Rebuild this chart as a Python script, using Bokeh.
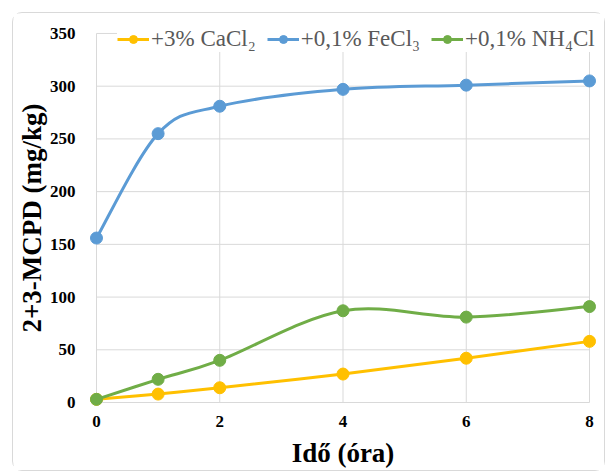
import numpy as np
from bokeh.plotting import figure
from bokeh.layouts import column
from bokeh.models import (Range1d, FixedTicker, Legend, LegendItem, ColumnDataSource)
from bokeh.embed import file_html
from bokeh.resources import INLINE

# ---- data ----
hours = [0, 1, 2, 4, 6, 8]
cacl2 = [3, 8, 14, 27, 42, 58]
fecl3 = [156, 255, 281, 297, 301, 305]
nh4cl = [3, 22, 40, 87, 81, 91]
series_labels = ["+3% CaCl\u2082", "+0,1% FeCl\u2083", "+0,1% NH\u2084Cl"]
series_colors = ["#FFC000", "#5B9BD5", "#70AD47"]
x_ticks = [0, 2, 4, 6, 8]
y_ticks = [0, 50, 100, 150, 200, 250, 300, 350]


def smooth_segments(xs, ys):
    """Catmull-Rom style bezier control points (Excel-like smoothing), in data space."""
    xs = np.asarray(xs, float)
    ys = np.asarray(ys, float)
    n = len(xs)
    px = np.concatenate([[xs[0]], xs, [xs[-1]]])
    py = np.concatenate([[ys[0]], ys, [ys[-1]]])
    d = dict(x0=[], y0=[], x1=[], y1=[], cx0=[], cy0=[], cx1=[], cy1=[])
    for i in range(n - 1):
        a, b = i + 1, i + 2
        d["x0"].append(px[a]); d["y0"].append(py[a])
        d["x1"].append(px[b]); d["y1"].append(py[b])
        d["cx0"].append(px[a] + (px[b] - px[a - 1]) / 6.0)
        d["cy0"].append(py[a] + (py[b] - py[a - 1]) / 6.0)
        d["cx1"].append(px[b] - (px[b + 1] - px[a]) / 6.0)
        d["cy1"].append(py[b] - (py[b + 1] - py[a]) / 6.0)
    return d


# small padding around the data area so edge markers are not clipped
xpad = 7 / 61.75
ypad = 7 / (370 / 350)
p = figure(width=591, height=457, output_backend="svg", toolbar_location=None,
           x_range=Range1d(x_ticks[0] - xpad, x_ticks[-1] + xpad),
           y_range=Range1d(y_ticks[0] - ypad, y_ticks[-1] + ypad),
           min_border_left=75, min_border_right=8, min_border_top=13, min_border_bottom=60)
p.outline_line_color = None
p.background_fill_color = "white"
p.border_fill_color = "white"
p.xgrid.visible = False
p.ygrid.visible = False

grid_col = "#d9d9d9"
# gridlines limited to the data box (0..8, 0..350)
p.segment(x0=x_ticks, y0=[y_ticks[0]] * len(x_ticks), x1=x_ticks, y1=[y_ticks[-1]] * len(x_ticks),
          line_color=grid_col, line_width=1)
p.segment(x0=[x_ticks[0]] * len(y_ticks), y0=y_ticks, x1=[x_ticks[-1]] * len(y_ticks), y1=y_ticks,
          line_color=grid_col, line_width=1)

p.xaxis.ticker = FixedTicker(ticks=x_ticks)
p.yaxis.ticker = FixedTicker(ticks=y_ticks)
for ax in (p.xaxis[0], p.yaxis[0]):
    ax.axis_line_color = None
    ax.major_tick_line_color = None
    ax.minor_tick_line_color = None
    ax.major_label_text_font = "Liberation Serif"
    ax.major_label_text_font_style = "bold"
    ax.major_label_text_font_size = "17px"
    ax.major_label_text_color = "black"
    ax.axis_label_text_font = "Liberation Serif"
    ax.axis_label_text_font_style = "bold"
    ax.axis_label_text_font_size = "27px"
    ax.axis_label_text_color = "black"
p.yaxis.major_label_standoff = 8
p.xaxis.major_label_standoff = 0
p.yaxis.axis_label = "2+3-MCPD (mg/kg)"
p.xaxis.axis_label = "Id\u0151 (\u00f3ra)"
p.yaxis.axis_label_standoff = 0
p.xaxis.axis_label_standoff = 8

items = []
for vals, lab, col in zip([cacl2, fecl3, nh4cl], series_labels, series_colors):
    src = ColumnDataSource(smooth_segments(hours, vals))
    br = p.bezier(x0="x0", y0="y0", x1="x1", y1="y1", cx0="cx0", cy0="cy0",
                  cx1="cx1", cy1="cy1", source=src, line_color=col, line_width=3)
    sr = p.scatter(hours, vals, marker="circle", size=12, fill_color=col, line_color=col)
    items.append(LegendItem(label=lab, renderers=[br, sr]))

leg = Legend(items=items, orientation="horizontal", location=(28, 357),
             label_text_font="Liberation Serif", label_text_font_size="23px",
             label_text_color="#595959", glyph_width=32, glyph_height=20,
             label_standoff=2, spacing=11, padding=2, margin=0,
             border_line_color=None, background_fill_color="white",
             background_fill_alpha=1.0)
p.add_layout(leg)

# rounded chart-area frame, inset like the original chart box
inner = column(p, styles={"border": "1px solid #d9d9d9", "border-radius": "10px"},
               margin=(12, 2, 1, 12))
root = column(inner, margin=0)

open("out.html", "w").write(file_html(root, INLINE))
